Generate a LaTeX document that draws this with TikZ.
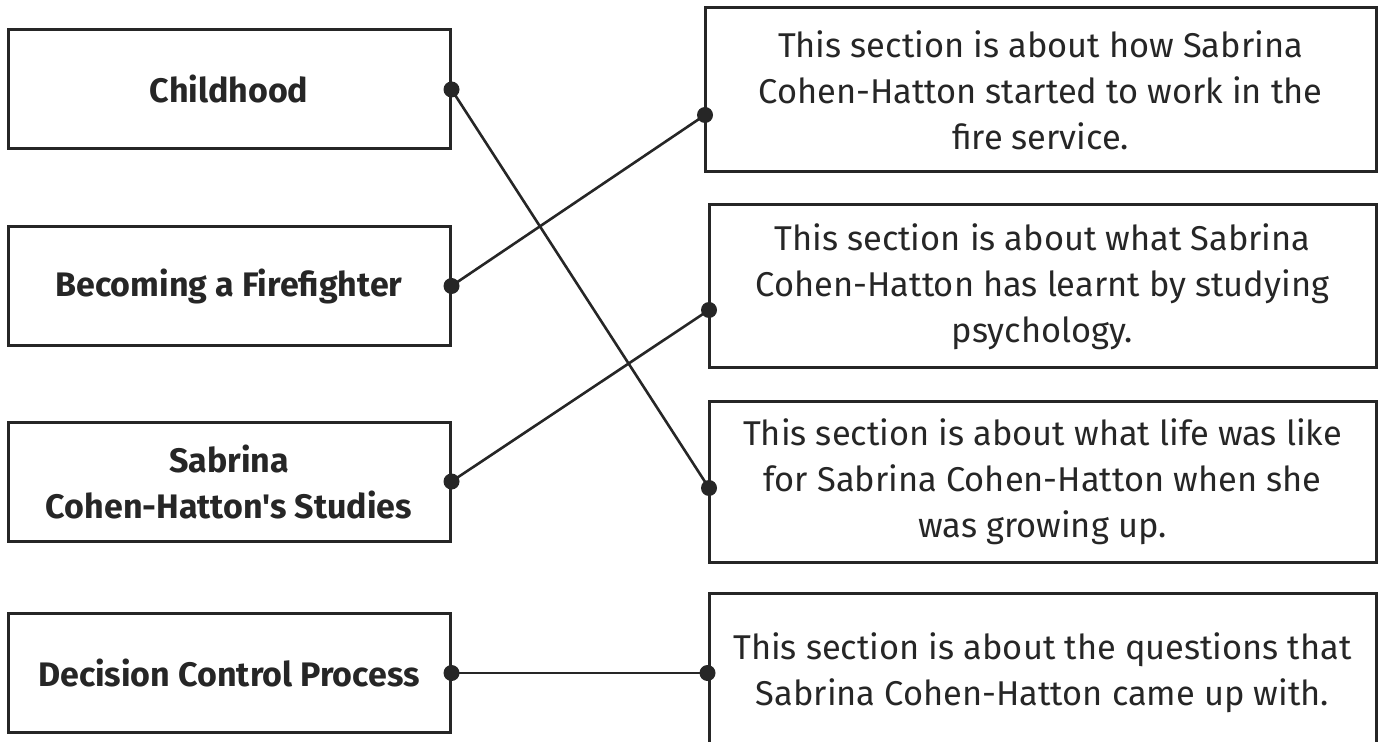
\documentclass[tikz,border=0pt]{standalone}
\usepackage{fontspec}
\setmainfont{Fira Sans}[Ligatures=TeXOff]
\definecolor{ink}{HTML}{262626}
\begin{document}
\begin{tikzpicture}[x=0.5pt, y=-0.5pt,
  topic/.style={draw=ink, line width=1.5pt, minimum width=221pt, minimum height=59.5pt,
    inner sep=0pt, align=center, text=ink, font=\fontsize{17}{23}\selectfont\bfseries},
  summary/.style={draw=ink, line width=1.5pt, minimum width=333.5pt, minimum height=80pt,
    inner sep=0pt, align=center, text=ink, font=\fontsize{17.2}{23}\selectfont},
  dot/.style={circle, fill=ink, inner sep=0pt, minimum size=8pt},
  link/.style={draw=ink, line width=1.3pt}]
  \useasboundingbox (0,0) rectangle (1384,742);
  \clip (0,0) rectangle (1384,742);

  % Section titles
  \node[topic] (childhood) at (229,89.5) {Childhood};
  \node[topic] (firefighter) at (229,286) {Becoming a Firefighter};
  \node[topic] (studies) at (229,481.5) {Sabrina\\Cohen-Hatton's Studies};
  \node[topic] (decision) at (229,673) {Decision Control Process};

  % Section descriptions
  \node[summary, minimum width=335.5pt, minimum height=82pt] (service) at (1040.5,90)
    {This section is about how Sabrina\\Cohen-Hatton started to work in the\\fire service.};
  \node[summary, minimum height=81.5pt] (psychology) at (1042.5,286.5)
    {This section is about what Sabrina\\Cohen-Hatton has learnt by studying\\psychology.};
  \node[summary] (growing) at (1042.5,482)
    {This section is about what life was like\\for Sabrina Cohen-Hatton when she\\was growing up.};
  \node[summary] (questions) at (1042.5,673)
    {This section is about the questions that\\Sabrina Cohen-Hatton came up with.};

  % Dots
  \foreach \n in {childhood,firefighter,studies,decision} {
    \node[dot] (\n-dot) at (\n.east) {};
  }
  \node[dot] (service-dot) at (705,115) {};
  \node[dot] (psychology-dot) at (709,310) {};
  \node[dot] (growing-dot) at (709,488) {};
  \node[dot] (questions-dot) at (questions.west) {};

  % Matching lines
  \draw[link] (childhood-dot.center) -- (growing-dot.center);
  \draw[link] (firefighter-dot.center) -- (service-dot.center);
  \draw[link] (studies-dot.center) -- (psychology-dot.center);
  \draw[link] (decision-dot.center) -- (questions-dot.center);
\end{tikzpicture}
\end{document}
